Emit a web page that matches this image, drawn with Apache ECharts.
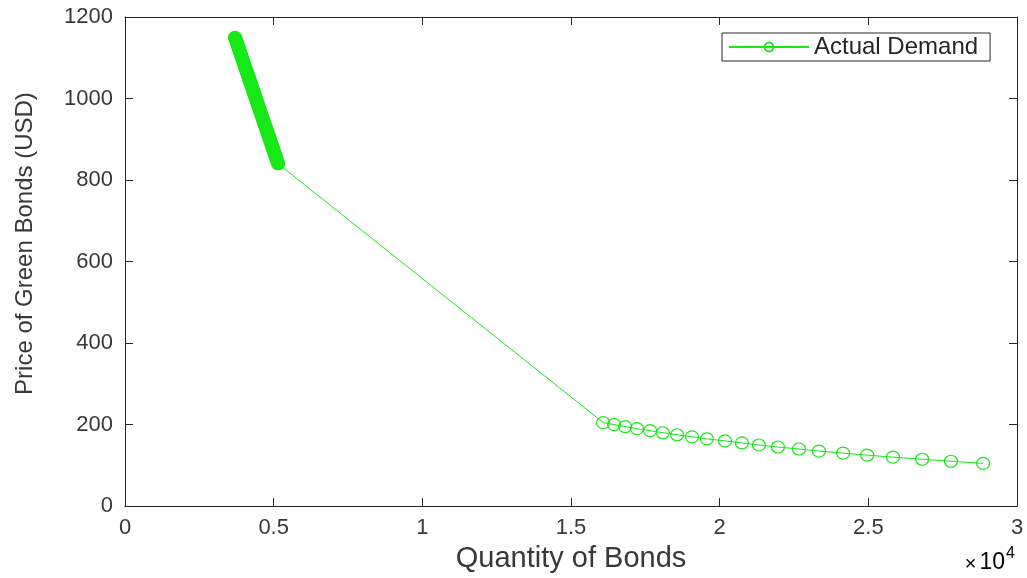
<!DOCTYPE html>
<html>
<head>
<meta charset="utf-8">
<script src="https://cdn.jsdelivr.net/npm/echarts@6/dist/echarts.min.js"></script>
<style>html,body{margin:0;padding:0;background:#fff;}#chart{width:1027px;height:578px;}</style>
</head>
<body>
<div id="chart"></div>
<script>
const upperPrice = [1150,1145,1140,1135,1130,1125,1120,1115,1110,1105,1100,1095,1090,1085,1080,1075,1070,1065,1060,1055,1050,1045,1040,1035,1030,1025,1020,1015,1010,1005,1000,995,990,985,980,975,970,965,960,955,950,945,940,935,930,925,920,915,910,905,900,895,890,885,880,875,870,865,860,855,850,845,840];
const upperQty = [3700,3723,3747,3770,3794,3817,3840,3864,3887,3911,3934,3957,3981,4004,4027,4051,4074,4098,4121,4144,4168,4191,4215,4238,4261,4285,4308,4332,4355,4378,4402,4425,4448,4472,4495,4519,4542,4565,4589,4612,4636,4659,4682,4706,4729,4753,4776,4799,4823,4846,4870,4893,4916,4940,4963,4987,5010,5033,5057,5080,5103,5127,5150];
// Lower segment (prices 205 -> 105, step 5)
const lowerPrice = [205,200,195,190,185,180,175,170,165,160,155,150,145,140,135,130,125,120,115,110,105];
const lowerQty = [16080,16450,16820,17220,17660,18090,18570,19070,19570,20180,20750,21320,21960,22670,23340,24150,24960,25830,26810,27780,28860];
const xTicks = [0, 5000, 10000, 15000, 20000, 25000, 30000];
const yTicks = [0, 200, 400, 600, 800, 1000, 1200];
const seriesName = 'Actual Demand';

const green = '#18e818';
const axisColor = '#262626';
const labelColor = '#383838';
const font = 'Liberation Sans, Arial, Helvetica, sans-serif';

// dense band: overlapping markers look solid in the reference
const data = upperQty.map((q, i) => ({value: [q, upperPrice[i]], itemStyle: {color: green}}))
  .concat(lowerQty.map((q, i) => [q, lowerPrice[i]]));

const chart = echarts.init(document.getElementById('chart'), null, {renderer: 'canvas'});
const baseX = {
  type: 'value', min: xTicks[0], max: xTicks[xTicks.length - 1], interval: xTicks[1] - xTicks[0],
  splitLine: {show: false},
  axisLine: {show: true, onZero: false, lineStyle: {color: axisColor, width: 1}},
  axisTick: {show: true, inside: true, length: 8, lineStyle: {color: axisColor}},
};
const baseY = {
  type: 'value', min: yTicks[0], max: yTicks[yTicks.length - 1], interval: yTicks[1] - yTicks[0],
  splitLine: {show: false},
  axisLine: {show: true, onZero: false, lineStyle: {color: axisColor, width: 1}},
  axisTick: {show: true, inside: true, length: 8, lineStyle: {color: axisColor}},
};
chart.setOption({
  backgroundColor: '#ffffff',
  animation: false,
  grid: {left: 125, right: 10, top: 17, bottom: 69, containLabel: false},
  legend: {
    show: true,
    data: [seriesName],
    left: 722, top: 33,
    padding: [2, 12, 2, 6],
    itemWidth: 80, itemHeight: 11, itemGap: 8,
    borderColor: axisColor, borderWidth: 1,
    backgroundColor: '#fff',
    textStyle: {fontFamily: font, fontSize: 24, color: axisColor}
  },
  xAxis: [
    Object.assign({}, baseX, {
      position: 'bottom',
      name: 'Quantity of Bonds', nameLocation: 'middle', nameGap: 34,
      nameTextStyle: {fontFamily: font, fontSize: 29, color: labelColor},
      axisLabel: {show: true, margin: 11, fontFamily: font, fontSize: 22, color: labelColor,
        formatter: v => String(v / 10000)}
    }),
    Object.assign({}, baseX, {position: 'top', axisLabel: {show: false}})
  ],
  yAxis: [
    Object.assign({}, baseY, {
      position: 'left',
      name: 'Price of Green Bonds (USD)', nameLocation: 'middle', nameGap: 88, nameRotate: 90,
      nameTextStyle: {fontFamily: font, fontSize: 24, color: labelColor, padding: [0, 0, 0, 36]},
      axisLabel: {show: true, margin: 12, fontFamily: font, fontSize: 22, color: labelColor,
        formatter: v => String(v)}
    }),
    Object.assign({}, baseY, {position: 'right', axisLabel: {show: false}})
  ],
  graphic: [{
    type: 'text', right: 12, bottom: 4,
    style: {
      text: '{a|×}{c|10}{b|4}',
      rich: {
        a: {fontFamily: font, fontSize: 20, color: labelColor, verticalAlign: 'bottom', padding: [0, 3, 0, 0]},
        c: {fontFamily: font, fontSize: 23, color: labelColor, verticalAlign: 'bottom'},
        b: {fontFamily: font, fontSize: 16, color: labelColor, verticalAlign: 'top', padding: [0, 0, 12, 1]}
      }
    }
  }],
  series: [{
    name: seriesName,
    type: 'line',
    data: data,
    symbol: 'circle',
    symbolSize: [13, 12],
    showAllSymbol: true,
    color: green,
    itemStyle: {color: 'rgba(255,255,255,0)', borderColor: green, borderWidth: 1.2},
    lineStyle: {color: green, width: 1},
    emphasis: {disabled: true}
  }]
});
</script>
</body>
</html>
